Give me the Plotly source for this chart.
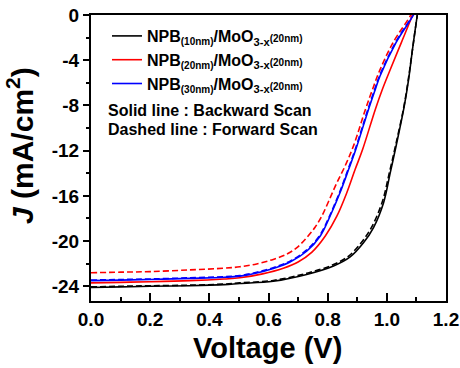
import plotly.graph_objects as go

# ---- data ----
v_black = [0.0, 0.1, 0.2, 0.334, 0.45, 0.503, 0.616, 0.729, 0.82, 0.876, 0.921, 0.955, 0.989, 1.012, 1.032, 1.058, 1.073, 1.087, 1.103, 1.108]
j_black = [-24.1, -24.05, -24.0, -23.95, -23.85, -23.75, -23.55, -22.95, -22.2, -21.4, -20.15, -18.8, -16.6, -13.9, -11.5, -8.2, -5.8, -3.0, 0.0, 0.8]
v_black_f = [0.0, 0.1, 0.2, 0.334, 0.45, 0.503, 0.616, 0.729, 0.818, 0.872, 0.916, 0.95, 0.985, 1.009, 1.03, 1.057, 1.072, 1.087, 1.103, 1.108]
j_black_f = [-24.05, -24.0, -23.95, -23.9, -23.8, -23.7, -23.48, -22.85, -22.1, -21.3, -20.05, -18.7, -16.5, -13.9, -11.5, -8.2, -5.8, -3.0, 0.0, 0.8]

v_red = [0.0, 0.1, 0.2, 0.334, 0.45, 0.503, 0.58, 0.65, 0.7, 0.746, 0.792, 0.831, 0.865, 0.893, 0.918, 0.961, 0.986, 1.012, 1.049, 1.087, 1.094]
j_red = [-23.7, -23.65, -23.6, -23.5, -23.35, -23.25, -22.9, -22.4, -21.85, -21.0, -19.55, -17.8, -15.7, -13.65, -11.9, -8.35, -6.5, -4.8, -2.44, 0.0, 0.5]
v_red_f = [0.0, 0.1, 0.2, 0.334, 0.45, 0.503, 0.56, 0.616, 0.662, 0.695, 0.729, 0.758, 0.78, 0.803, 0.83, 0.858, 0.887, 0.927, 0.95, 0.976, 1.021, 1.081, 1.089]
j_red_f = [-22.8, -22.75, -22.7, -22.55, -22.4, -22.27, -22.02, -21.62, -21.15, -20.6, -19.7, -18.75, -17.8, -16.5, -14.9, -13.4, -11.6, -8.4, -6.7, -4.9, -2.44, 0.0, 0.5]

v_blue = [0.0, 0.1, 0.2, 0.334, 0.45, 0.503, 0.56, 0.616, 0.673, 0.729, 0.775, 0.808, 0.842, 0.871, 0.895, 0.938, 0.961, 0.977, 1.031, 1.09, 1.098]
j_blue = [-23.5, -23.45, -23.4, -23.3, -23.2, -23.1, -22.82, -22.42, -21.85, -20.9, -19.55, -17.8, -15.7, -13.65, -11.9, -8.35, -6.58, -5.4, -2.44, 0.0, 0.5]
v_blue_f = [0.0, 0.1, 0.2, 0.334, 0.45, 0.503, 0.56, 0.616, 0.673, 0.727, 0.773, 0.806, 0.84, 0.869, 0.893, 0.936, 0.959, 0.975, 1.029, 1.088, 1.096]
j_blue_f = [-23.45, -23.4, -23.35, -23.25, -23.15, -23.05, -22.76, -22.35, -21.77, -20.82, -19.5, -17.8, -15.7, -13.65, -11.9, -8.35, -6.58, -5.4, -2.44, 0.0, 0.5]

x_ticks = [0.0, 0.2, 0.4, 0.6, 0.8, 1.0, 1.2]
x_ticktext = ["0.0", "0.2", "0.4", "0.6", "0.8", "1.0", "1.2"]
y_ticks = [0, -4, -8, -12, -16, -20, -24]
y_ticktext = ["0", "-4", "-8", "-12", "-16", "-20", "-24"]

names = [
    "<b>NPB<sub><span style='font-size:10px'>(10nm)</span></sub>/MoO<sub>3-x</sub><span style='font-size:10px'>(20nm)</span></b>",
    "<b>NPB<sub><span style='font-size:10px'>(20nm)</span></sub>/MoO<sub>3-x</sub><span style='font-size:10px'>(20nm)</span></b>",
    "<b>NPB<sub><span style='font-size:10px'>(30nm)</span></sub>/MoO<sub>3-x</sub><span style='font-size:10px'>(20nm)</span></b>",
]

FONT = "Liberation Sans, Arial, sans-serif"
fig = go.Figure()

curves = [
    (v_black_f, j_black_f, "#000000", "dash", None),
    (v_red_f, j_red_f, "#ff0000", "dash", None),
    (v_blue_f, j_blue_f, "#0000ff", "dash", None),
    (v_black, j_black, "#000000", "solid", names[0]),
    (v_red, j_red, "#ff0000", "solid", names[1]),
    (v_blue, j_blue, "#0000ff", "solid", names[2]),
]
for v, j, c, d, nm in curves:
    fig.add_trace(go.Scatter(
        x=v, y=j, mode="lines",
        line=dict(color=c, width=1.6, dash="6px,3px" if d == "dash" else "solid", shape="spline", smoothing=1.0),
        name=nm if nm else "",
        showlegend=nm is not None,
    ))

fig.update_layout(
    template="none",
    width=460, height=368,
    margin=dict(l=91, r=14, t=15, b=67, autoexpand=False),
    paper_bgcolor="white", plot_bgcolor="white",
    font=dict(family=FONT, color="black", size=16),
    showlegend=True,
    legend=dict(x=0.045, y=0.986, xanchor="left", yanchor="top",
                bgcolor="rgba(0,0,0,0)", borderwidth=0,
                font=dict(family=FONT, size=16, color="black"),
                tracegroupgap=0, itemwidth=30),
)
fig.update_xaxes(
    range=[0, 1.2], tickvals=x_ticks, ticktext=x_ticktext, automargin=False,
    showline=True, linecolor="black", linewidth=2, mirror=True,
    ticks="inside", ticklen=8, tickwidth=2, tickcolor="black",
    tickfont=dict(family=FONT, size=19, color="black", weight="bold"),
    minor=dict(dtick=0.1, ticks="inside", ticklen=4, tickwidth=2, tickcolor="black"),
    showgrid=False, zeroline=False,
)
fig.update_yaxes(
    range=[-25.3, 0], tickvals=y_ticks, ticktext=y_ticktext, automargin=False,
    showline=True, linecolor="black", linewidth=2, mirror=True,
    ticks="outside", ticklen=6, tickwidth=2, tickcolor="black",
    tickfont=dict(family=FONT, size=19, color="black", weight="bold"),
    minor=dict(dtick=2, ticks="outside", ticklen=3, tickwidth=2, tickcolor="black"),
    showgrid=False, zeroline=False,
)

fig.add_annotation(text="<b>Voltage (V)</b>", xref="paper", yref="paper", x=0.497, y=-0.163,
                   showarrow=False, xanchor="center", yanchor="middle",
                   font=dict(family=FONT, size=29, color="black"))
fig.add_annotation(text="<b><i>J</i> (mA/cm<sup>2</sup>)</b>", xref="paper", yref="paper", x=-0.2, y=0.542,
                   showarrow=False, xanchor="center", yanchor="middle", textangle=-90,
                   font=dict(family=FONT, size=30, color="black"))
fig.add_annotation(text="<b>Solid line : Backward Scan</b>", xref="paper", yref="paper", x=0.042, y=0.665,
                   showarrow=False, xanchor="left", yanchor="middle",
                   font=dict(family=FONT, size=16, color="black"))
fig.add_annotation(text="<b>Dashed line : Forward Scan</b>", xref="paper", yref="paper", x=0.042, y=0.601,
                   showarrow=False, xanchor="left", yanchor="middle",
                   font=dict(family=FONT, size=16, color="black"))

fig.write_html("out.html")
